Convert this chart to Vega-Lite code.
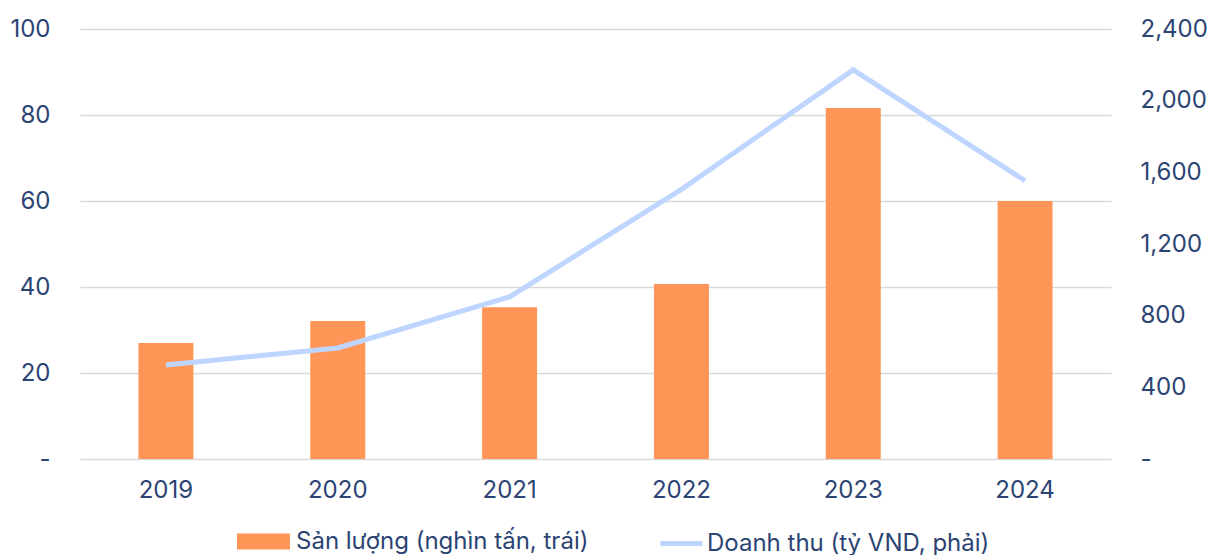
{
  "$schema": "https://vega.github.io/schema/vega-lite/v6.json",
  "width": 1031,
  "height": 430,
  "autosize": {"type": "none"},
  "padding": {"left": 80, "top": 29, "right": 112, "bottom": 96},
  "background": "white",
  "config": {
    "view": {"stroke": null},
    "font": "Inter",
    "axis": {"labelFont": "Inter", "labelColor": "#2c4474", "labelFontSize": 24, "titleFont": "Inter"},
    "legend": {"labelFont": "Inter", "labelColor": "#2c4474", "labelFontSize": 24, "labelLimit": 500, "padding": 0}
  },
  "data": {
    "values": [
      {"year": "2019", "volume": 27.0, "revenue": 525, "s1": "Sản lượng (nghìn tấn, trái)", "s2": "Doanh thu (tỷ VND, phải)"},
      {"year": "2020", "volume": 32.1, "revenue": 620, "s1": "Sản lượng (nghìn tấn, trái)", "s2": "Doanh thu (tỷ VND, phải)"},
      {"year": "2021", "volume": 35.3, "revenue": 905, "s1": "Sản lượng (nghìn tấn, trái)", "s2": "Doanh thu (tỷ VND, phải)"},
      {"year": "2022", "volume": 40.7, "revenue": 1505, "s1": "Sản lượng (nghìn tấn, trái)", "s2": "Doanh thu (tỷ VND, phải)"},
      {"year": "2023", "volume": 81.6, "revenue": 2172, "s1": "Sản lượng (nghìn tấn, trái)", "s2": "Doanh thu (tỷ VND, phải)"},
      {"year": "2024", "volume": 60.0, "revenue": 1553, "s1": "Sản lượng (nghìn tấn, trái)", "s2": "Doanh thu (tỷ VND, phải)"}
    ]
  },
  "encoding": {
    "x": {
      "field": "year", "type": "ordinal", "title": null,
      "scale": {"paddingInner": 0.68, "paddingOuter": 0.34},
      "axis": {"labelAngle": 0, "domain": false, "ticks": false, "labelPadding": 19, "grid": false}
    }
  },
  "layer": [
    {
      "mark": {"type": "bar", "color": "#ff9657"},
      "encoding": {
        "y": {
          "field": "volume", "type": "quantitative", "title": null,
          "scale": {"domain": [0, 100], "nice": false},
          "axis": {"values": [0, 20, 40, 60, 80, 100], "domain": false, "ticks": false, "labelPadding": 30,
                   "gridColor": "#d9d9d9", "gridWidth": 1.5,
                   "labelExpr": "datum.value == 0 ? '-' : datum.label"}
        },
        "fill": {
          "field": "s1", "type": "nominal",
          "scale": {"range": ["#ff9657"]},
          "legend": {"title": null, "orient": "none", "legendX": 157, "legendY": 486,
                     "symbolType": "M-1,-0.3H1V0.3H-1Z", "symbolSize": 2809, "symbolStrokeWidth": 0,
                     "labelOffset": 6}
        }
      }
    },
    {
      "mark": {"type": "line", "color": "#bdd5ff", "strokeWidth": 5},
      "encoding": {
        "y": {
          "field": "revenue", "type": "quantitative", "title": null,
          "scale": {"domain": [0, 2400], "nice": false},
          "axis": {"orient": "right", "values": [0, 400, 800, 1200, 1600, 2000, 2400], "format": ",.0f",
                   "domain": false, "ticks": false, "grid": false, "labelPadding": 29,
                   "labelExpr": "datum.value == 0 ? '-' : datum.label"}
        },
        "stroke": {
          "field": "s2", "type": "nominal",
          "scale": {"range": ["#bdd5ff"]},
          "legend": {"title": null, "orient": "none", "legendX": 578, "legendY": 491,
                     "symbolType": "stroke", "symbolSize": 1764, "symbolStrokeWidth": 5,
                     "labelOffset": 2}
        }
      }
    }
  ],
  "resolve": {"scale": {"y": "independent"}, "legend": {"fill": "independent", "stroke": "independent"}}
}
